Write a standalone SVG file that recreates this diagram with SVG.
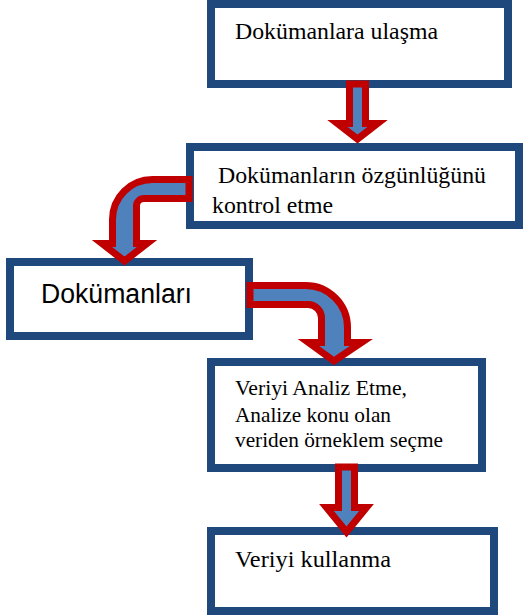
<svg xmlns="http://www.w3.org/2000/svg" width="525" height="616" viewBox="0 0 525 616">
<style>
.box{fill:#fff;stroke:#1F497D;stroke-width:8}
.arr{fill:#4F81BD;stroke:#C00000;stroke-width:7;stroke-linejoin:miter}
.t{font-family:'Liberation Serif','DejaVu Serif',serif;font-size:23px;fill:#000}
.t2{font-family:'Liberation Serif','DejaVu Serif',serif;font-size:21.5px;fill:#000}
.s{font-family:'Liberation Sans',Arial,sans-serif;font-size:27px;fill:#000}
</style>
<g id="n1"><rect class="box" x="211" y="4" width="297" height="80"/><text class="t" x="235" y="39" textLength="203" lengthAdjust="spacingAndGlyphs">Dokümanlara ulaşma</text></g>
<g id="n2"><rect class="box" x="190" y="147" width="329" height="78"/><text class="t" x="218" y="183" textLength="268" lengthAdjust="spacingAndGlyphs">Dokümanların özgünlüğünü</text><text class="t" x="212" y="213" textLength="121" lengthAdjust="spacingAndGlyphs">kontrol etme</text></g>
<g id="n3"><rect class="box" x="10" y="262" width="239" height="74"/><text class="s" x="41" y="303" textLength="151" lengthAdjust="spacingAndGlyphs">Dokümanları</text></g>
<g id="n4"><rect class="box" x="211" y="362" width="271" height="106"/><text class="t2" x="235" y="395" textLength="172" lengthAdjust="spacingAndGlyphs">Veriyi Analiz Etme,</text><text class="t2" x="235" y="422" textLength="156" lengthAdjust="spacingAndGlyphs">Analize konu olan</text><text class="t2" x="235" y="447" textLength="208" lengthAdjust="spacingAndGlyphs">veriden örneklem seçme</text></g>
<g id="n5"><rect class="box" x="211" y="531" width="283" height="80"/><text class="t" x="235" y="567" textLength="156" lengthAdjust="spacingAndGlyphs">Veriyi kullanma</text></g>
<g id="connectors">
<path class="arr" d="M349.5,84 L365.5,84 L365.5,123.5 L377.5,123.5 L357.5,139 L337.5,123.5 L349.5,123.5 Z"/>
<path class="arr" d="M189,179.5 L152.5,179.5 A40,40 0 0 0 112.5,219.5 L112.5,243.5 L102,243.5 L124.5,261 L147,243.5 L136.5,243.5 L136.5,206 A7.5,7.5 0 0 1 144,198.5 L189,198.5 Z"/>
<path class="arr" d="M250,285.5 L305.5,285.5 A42,42 0 0 1 347.5,327.5 L347.5,342.5 L361.5,342.5 L334,361 L308.5,342.5 L321.5,342.5 L321.5,318 A13.5,13.5 0 0 0 308,304.5 L250,304.5 Z"/>
<path class="arr" d="M338.5,467 L354.5,467 L354.5,507.5 L366.5,507.5 L346.5,532 L326.5,507.5 L338.5,507.5 Z"/>
</g>
</svg>
